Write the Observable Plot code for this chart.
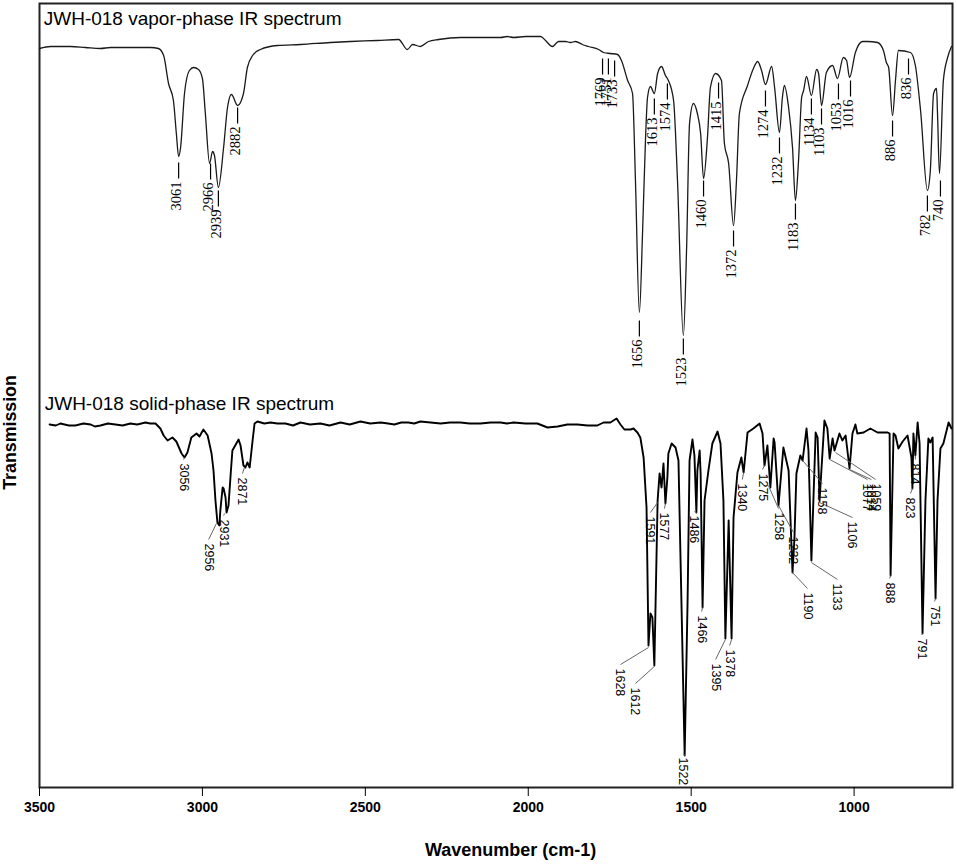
<!DOCTYPE html>
<html>
<head>
<meta charset="utf-8">
<script src="https://cdn.jsdelivr.net/npm/d3@7"></script>
<script src="https://cdn.jsdelivr.net/npm/@observablehq/plot@0.6"></script>
<style>
  body { margin: 0; background: #fff; }
  svg { display: block; }
</style>
</head>
<body>
<div id="chart"></div>
<script>
// Transmission is in arbitrary units
const xTicks = [3500, 3000, 2500, 2000, 1500, 1000];

const vaporWave = [3500,3466,3405,3359,3313,3282,3221,3159,3135,3119,3104,3089,3080,3073,3067,3055,3040,3027,3012,3000,2991,2978,2969,2963,2951,2935,2923,2911,2892,2874,2862,2846,2822,2770,2699,2607,2546,2463,2398,2371,2355,2331,2306,2275,2208,2085,2064,2045,2008,1962,1947,1926,1907,1886,1870,1855,1834,1815,1784,1769,1748,1726,1714,1695,1680,1671,1659,1649,1640,1634,1625,1613,1603,1591,1579,1570,1554,1542,1524,1514,1505,1493,1481,1471,1462,1450,1441,1425,1407,1398,1385,1370,1361,1352,1327,1309,1296,1284,1272,1253,1244,1229,1220,1214,1201,1189,1180,1171,1161,1155,1146,1131,1115,1109,1100,1085,1066,1051,1033,1023,1014,996,974,959,928,910,901,894,882,873,864,827,812,796,775,766,756,747,744,738,726,713,701];
const vaporT = [739,741,741,740,739,740,740,740,739,732,704,687,654,631,640,694,717,720,718,709,674,624,636,632,600,640,680,693,682,694,720,732,738,742,743,745,746,747,748,738,743,741,746,748,750,750,751,750,751,751,747,741,746,746,745,746,743,741,738,735,734,733,727,707,694,607,475,557,650,690,701,694,714,721,712,707,687,607,452,540,664,684,674,654,609,650,700,714,707,644,624,562,607,674,702,719,726,717,703,721,700,655,690,702,680,640,587,624,690,697,711,692,718,714,682,715,722,709,730,727,710,735,746,746,745,737,725,720,672,707,737,735,722,677,597,617,694,699,674,614,707,730,741];

const solidWave = [3469,3450,3436,3410,3390,3365,3343,3330,3313,3290,3267,3245,3221,3200,3175,3160,3144,3129,3119,3107,3092,3080,3064,3055,3046,3034,3018,3009,2997,2984,2972,2966,2960,2954,2948,2945,2938,2935,2929,2926,2920,2914,2908,2889,2883,2874,2868,2862,2855,2846,2840,2831,2810,2791,2770,2745,2722,2699,2670,2638,2610,2576,2548,2515,2485,2453,2430,2411,2390,2368,2350,2331,2300,2269,2240,2208,2180,2147,2115,2085,2065,2045,2008,1972,1941,1910,1880,1849,1818,1788,1769,1748,1729,1717,1705,1686,1677,1665,1656,1646,1637,1631,1625,1619,1613,1603,1597,1591,1588,1585,1579,1573,1570,1560,1548,1539,1530,1520,1511,1505,1496,1490,1484,1481,1474,1471,1465,1459,1447,1435,1419,1410,1401,1395,1385,1376,1370,1358,1346,1339,1327,1309,1290,1281,1275,1266,1257,1247,1244,1232,1217,1201,1189,1183,1177,1165,1158,1146,1140,1131,1118,1112,1106,1091,1082,1075,1066,1060,1045,1036,1026,1014,1005,996,990,971,950,928,897,891,888,879,873,864,851,836,824,821,818,812,805,799,790,781,772,766,759,750,744,735,726,710,701];
const solidT = [363,362,364,362,362,364,363,361,362,364,363,362,364,363,365,364,364,359,352,347,350,346,334,330,335,350,354,351,358,352,334,317,287,265,262,277,300,299,290,275,282,310,337,348,342,322,320,325,320,347,364,366,364,365,364,364,362,365,363,364,362,365,363,366,364,365,364,363,365,365,364,366,365,364,365,365,364,364,365,365,364,365,364,364,360,361,363,363,362,362,365,365,369,363,358,358,359,355,350,330,280,142,174,170,122,287,314,300,312,324,284,310,334,344,340,327,187,32,187,327,348,332,275,317,337,314,180,287,317,344,356,344,287,149,267,149,270,315,330,315,355,359,364,354,322,342,300,349,345,282,340,317,215,250,314,332,327,359,337,227,355,350,287,367,359,329,349,337,354,347,352,319,354,363,354,355,359,355,355,354,212,354,352,339,346,352,330,299,354,332,365,344,154,287,349,345,350,189,287,339,344,365,359];

const vaporLabels = ['3061','2966','2939','2882','1769','1751','1733','1656','1613','1574','1523','1460','1415','1372','1274','1232','1183','1134','1103','1053','1016','886','836','782','740'];
const vaporPeakWave = [3073,2975,2951,2892,1772,1754,1735,1659,1613,1573,1524,1462,1416,1370,1272,1229,1180,1131,1100,1048,1011,882,833,775,735];
const vaporPeakT = [631,630,603,686,735,735,733,473,695,710,455,613,711,563,703,656,590,695,685,710,713,673,735,598,613];

const solidLabels = ['3056','2956','2931','2871','1628','1612','1591','1577','1522','1486','1466','1395','1378','1340','1275','1258','1232','1190','1133','1158','1106','1077','1059','1014','888','823','814','791','751'];
const solidPeakWave = [3055,2957,2932,2871,1631,1613,1603,1579,1520,1484,1465,1395,1376,1339,1275,1263,1232,1189,1131,1158,1106,1075,1057,1014,888,821,812,790,750];
const solidPeakT = [330,264,274,320,140,121,285,284,32,275,180,148,148,315,322,302,282,215,225,327,285,328,335,318,212,299,332,154,189];
const solidTextWave = [3058,2981,2935,2877,1717,1671,1625,1582,1524,1490,1468,1425,1382,1343,1281,1232,1186,1143,1051,1097,1005,959,934,947,891,827,812,793,753];
const solidTextT = [324,244,268,310,119,100,271,275,30,272,172,124,138,304,314,275,251,195,204,300,266,304,304,304,205,290,324,149,182];

const panelTitles = ['JWH-018 vapor-phase IR spectrum', 'JWH-018 solid-phase IR spectrum'];
const panelTitleWave = [3487, 3484];
const panelTitleT = [769, 384];

const vapor = vaporWave.map((w, i) => ({ w, t: vaporT[i] }));
const solid = solidWave.map((w, i) => ({ w, t: solidT[i] }));
const vaporPeaks = vaporLabels.map((label, i) => ({ label, w: vaporPeakWave[i], t: vaporPeakT[i] }));
const solidPeaks = solidLabels.map((label, i) => ({
  label,
  w: solidPeakWave[i],
  t: solidPeakT[i],
  tw: solidTextWave[i],
  tt: solidTextT[i]
}));
const titles = panelTitles.map((label, i) => ({ label, w: panelTitleWave[i], t: panelTitleT[i] }));

const chart = Plot.plot({
  width: 957,
  height: 864,
  marginLeft: 39,
  marginRight: 5,
  marginTop: 3,
  marginBottom: 77,
  style: { background: '#fff', fontFamily: '"Liberation Sans", Arial, sans-serif', color: '#000' },
  x: { domain: [3500, 698], axis: null },
  y: { domain: [0, 784], axis: null },
  marks: [
    Plot.frame({ stroke: '#222', strokeWidth: 2 }),
    Plot.axisX({
      anchor: 'bottom',
      ticks: xTicks,
      tickSize: 9,
      tickPadding: 6,
      tickFormat: d => String(d),
      fontSize: 14,
      fontWeight: 'bold',
      stroke: '#000',
      label: null
    }),
    Plot.line(vapor, { x: 'w', y: 't', curve: 'monotone-x', stroke: '#1a1a1a', strokeWidth: 1.3 }),
    Plot.line(solid, { x: 'w', y: 't', stroke: '#000', strokeWidth: 1.9 }),
    // vapor peak ticks and labels
    Plot.link(vaporPeaks, { x1: 'w', x2: 'w', y1: d => d.t - 6, y2: d => d.t - 22, stroke: '#000', strokeWidth: 1.2 }),
    Plot.text(vaporPeaks, {
      x: 'w',
      y: d => d.t - 25,
      text: 'label',
      rotate: -90,
      textAnchor: 'end',
      dx: -2,
      fontSize: 14.5,
      fontFamily: '"Liberation Serif", serif',
      fill: '#000'
    }),
    // solid peak leaders and labels
    Plot.link(solidPeaks, { x1: 'w', y1: 't', x2: 'tw', y2: d => d.tt + 4, stroke: '#666', strokeWidth: 1 }),
    Plot.text(solidPeaks, {
      x: 'tw',
      y: 'tt',
      text: 'label',
      rotate: 90,
      textAnchor: 'start',
      fontSize: 12.5,
      fill: '#000'
    }),
    Plot.text(titles, { x: 'w', y: 't', text: 'label', textAnchor: 'start', fontSize: 19, fill: '#000' }),
    Plot.text(['Wavenumber (cm-1)'], { x: [2054], y: [-63], fontSize: 18, fontWeight: 'bold', fill: '#000' }),
    Plot.text(['Transmission'], { x: [3589], y: [355], rotate: -90, fontSize: 17.8, fontWeight: 'bold', fill: '#000' })
  ]
});
document.getElementById('chart').append(chart);
</script>
</body>
</html>
